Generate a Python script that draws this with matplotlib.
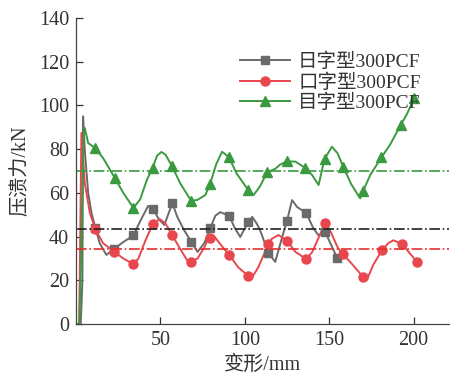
import matplotlib
matplotlib.use("Agg")
import matplotlib.pyplot as plt

# marker points
ri_mx = [11.5, 22.8, 34.0, 45.7, 57.1, 68.3, 79.6, 90.8, 102.0, 113.9, 125.0, 136.4, 147.6, 154.7]
ri_my = [43.9, 34.5, 40.5, 52.6, 55.3, 37.5, 43.9, 49.4, 46.7, 32.7, 47.3, 50.8, 42.1, 30.2]
kou_mx = [11.5, 22.8, 34.0, 45.5, 57.1, 68.3, 79.6, 90.8, 102.0, 113.9, 125.0, 136.4, 147.6, 158.3, 170.1, 181.4, 193.2, 202.0]
kou_my = [43.3, 33.0, 27.4, 45.7, 40.5, 28.4, 39.3, 31.6, 22.0, 36.4, 38.0, 29.7, 46.2, 31.8, 21.5, 33.9, 36.6, 28.4]
mu_mx = [11.3, 23.0, 34.0, 45.5, 56.8, 68.3, 79.4, 90.6, 101.8, 113.2, 125.0, 135.9, 147.2, 158.4, 170.0, 180.9, 192.3, 200.3]
mu_my = [80.5, 66.8, 53.1, 71.6, 72.3, 56.3, 64.0, 76.4, 61.5, 69.4, 74.4, 71.4, 75.5, 71.7, 60.7, 76.2, 91.0, 103.3]

# curve points
ri_x = [0, 2.8, 3.8, 4.2, 5.2, 7.2, 9.2, 11.5, 14, 18, 22.8, 28, 34.0, 38, 42.7, 45.7, 49, 52.3, 57.1, 60, 64,
        68.3, 72, 76, 79.6, 82.5, 85.5, 90.8, 94, 97.3, 102.0, 104.4, 107, 109, 113.9, 118, 122.8, 125.0, 128,
        131, 136.4, 140.5, 143.5, 147.6, 151.7, 154.7]
ri_y = [0, 0, 20, 95, 79.6, 60, 50.8, 43.9, 37, 31.6, 34.5, 37.5, 40.5, 47, 54, 52.6, 48, 45.3, 55.3, 49, 43,
        37.5, 33, 37, 43.9, 49.5, 51.2, 49.4, 44, 39.8, 46.7, 49, 46, 43, 32.7, 28.4, 41.6, 47.3, 56.7,
        53.5, 50.8, 43.9, 40.7, 42.1, 35.2, 30.2]
kou_x = [0, 1.8, 2.2, 3.2, 5.2, 8.2, 11.5, 16, 22.8, 28, 34.0, 37, 41, 45.5, 49.6, 53, 57.1, 62, 66, 68.3,
         72, 76, 78.5, 82, 86, 90.8, 96, 102.0, 104.5, 108, 113.9, 116, 120, 125.0, 130, 136.4, 140, 144,
         147.6, 151, 155, 158.3, 164, 170.1, 172.5, 176, 181.4, 185, 188, 193.2, 197, 202.0]
kou_y = [0, 0, 20, 87.4, 64.5, 50.8, 43.3, 37, 33.0, 30, 27.4, 30, 38, 45.7, 48, 46, 40.5, 34, 29, 28.4,
         30, 35, 39.5, 40, 36, 31.6, 26, 22.0, 21.5, 26, 36.4, 39, 40.7, 38.0, 33, 29.7, 33, 40,
         46.2, 42, 35, 31.8, 27, 21.5, 20.5, 27, 33.9, 37, 38.3, 36.6, 33, 28.4]
mu_x = [0, 2.0, 3.0, 4.5, 5.2, 7.2, 11.3, 16, 23.0, 28, 34.0, 38, 42, 45.5, 48, 50.6, 53, 56.8, 62, 68.3,
        72, 76.6, 79.4, 83, 86.5, 90.6, 95, 101.8, 105.2, 109, 113.2, 118, 121, 125.0, 129.9, 135.9, 140,
        143.7, 147.2, 151.6, 155, 158.4, 163, 168.3, 170.0, 174.3, 180.9, 186, 192.3, 196, 200.3]
mu_y = [0, 0, 30, 85, 89.7, 82.8, 80.5, 76, 66.8, 60, 53.1, 57, 66, 71.6, 77, 78.7, 77.5, 72.3, 64, 56.3,
        56.8, 59, 64.0, 73, 78.8, 76.4, 69, 61.5, 59, 63, 69.4, 71, 73, 74.4, 74.3, 71.4, 68,
        63.6, 75.5, 81.1, 78, 71.7, 64, 57.5, 60.7, 68.2, 76.2, 82, 91.0, 96, 103.3]

# averages (dash-dot lines)
avg_ri = 43.5
avg_kou = 34.5
avg_mu = 69.8

labels = ["日字型300PCF", "口字型300PCF", "目字型300PCF"]
yticks = [0, 20, 40, 60, 80, 100, 120, 140]
xticks = [50, 100, 150, 200]

plt.rcParams['font.family'] = ['Liberation Serif', 'Noto Sans CJK SC']
plt.rcParams['axes.unicode_minus'] = False

c_gray = '#6a6a6a'
c_red = '#e8474e'
c_green = '#3a9a3f'
txt = '#333333'
fs = 14.5

fig = plt.figure(figsize=(4.5, 3.79), dpi=100)
ax = fig.add_axes([76 / 450, 1 - 324 / 379, 1 - 76 / 450 - 0.002, (324 - 18) / 379])

ax.plot(ri_x, ri_y, color=c_gray, lw=1.4)
ax.plot(kou_x, kou_y, color=c_red, lw=1.4)
ax.plot(mu_x, mu_y, color=c_green, lw=1.4)
ax.plot(ri_mx, ri_my, ls='none', marker='s', ms=6, color=c_gray)
ax.plot(kou_mx, kou_my, ls='none', marker='o', ms=6.5, color=c_red)
ax.plot(mu_mx, mu_my, ls='none', marker='^', ms=7, color=c_green)

ax.axhline(avg_mu, color=c_green, lw=1.2, ls='-.')
ax.axhline(avg_ri, color='#222222', lw=1.2, ls='-.')
ax.axhline(avg_kou, color='#e53030', lw=1.2, ls='-.')

# legend handles
h1, = ax.plot([], [], color=c_gray, lw=1.4, marker='s', ms=6)
h2, = ax.plot([], [], color=c_red, lw=1.4, marker='o', ms=6.5)
h3, = ax.plot([], [], color=c_green, lw=1.4, marker='^', ms=7)
fig.legend([h1, h2, h3], labels, loc='upper left', bbox_to_anchor=(230 / 450, 1 - 43 / 379),
           frameon=False, fontsize=14, handlelength=2.6, handletextpad=0.4, labelspacing=0.1,
           borderpad=0, labelcolor=txt)

ax.set_xlim(0, 221)
ax.set_ylim(0, 140)
ax.set_xticks(xticks)
ax.set_yticks(yticks)
ax.tick_params(direction='in', length=5, labelsize=fs, colors=txt, width=0.9, pad=5)
for s in ['top', 'right']:
    ax.spines[s].set_visible(False)
for s in ['left', 'bottom']:
    ax.spines[s].set_color('#444444')
    ax.spines[s].set_linewidth(0.9)

ax.set_xlabel("变形/mm", fontsize=fs, color=txt, labelpad=4)
ax.set_ylabel("压溃力/kN", fontsize=fs, color=txt, labelpad=6)

fig.savefig("out.png", dpi=100)
